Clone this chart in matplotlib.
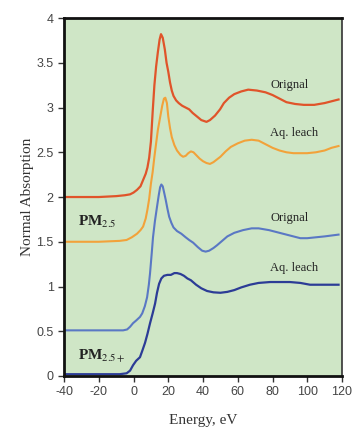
import numpy as np
import matplotlib.pyplot as plt

plt.rcParams['mathtext.fontset'] = 'stix'
plt.rcParams['axes.unicode_minus'] = False

# PM2.5 original (red)
x_red = [-40, -20, -10, -5, -2, 0, 2, 4, 5.5, 7, 8, 9, 10, 11, 12, 13, 14, 15, 15.8, 16.8, 18, 19, 20, 21, 22, 23,
         24.5, 26, 28, 30, 32, 34, 36.5, 39, 42, 44, 46.9, 49.8, 52, 55, 58, 62, 66, 71, 76, 80, 84, 88, 93, 98,
         104, 110, 114, 118]
y_red = [2.0, 2.0, 2.01, 2.02, 2.03, 2.05, 2.08, 2.12, 2.19, 2.26, 2.33, 2.44, 2.62, 2.95, 3.25, 3.46, 3.62, 3.76,
         3.82, 3.78, 3.65, 3.5, 3.4, 3.28, 3.19, 3.13, 3.08, 3.05, 3.02, 3.0, 2.98, 2.94, 2.9, 2.86, 2.84, 2.86,
         2.91, 2.98, 3.05, 3.11, 3.15, 3.18, 3.2, 3.19, 3.17, 3.14, 3.1, 3.06, 3.04, 3.03, 3.03, 3.05, 3.07, 3.09]

# PM2.5 aq. leach (orange)
x_org = [-40, -20, -8, -4, -1, 2, 4, 5.5, 7, 8, 9, 10, 11, 12, 13, 14, 15.2, 16.5, 17.5, 18.3, 19.2, 20, 21, 22,
         23.5, 25, 27, 28.5, 30, 31.5, 33, 34.5, 36, 38, 40, 42, 44, 46, 48, 50, 53, 56, 60, 64, 68, 72, 76, 80,
         84, 88, 92, 96, 100, 105, 110, 114, 118]
y_org = [1.5, 1.5, 1.51, 1.52, 1.55, 1.59, 1.63, 1.67, 1.76, 1.86, 1.98, 2.15, 2.28, 2.45, 2.6, 2.75, 2.88, 3.02,
         3.1, 3.11, 3.05, 2.9, 2.77, 2.67, 2.58, 2.52, 2.47, 2.45, 2.46, 2.49, 2.51, 2.5, 2.47, 2.43, 2.4, 2.38,
         2.37, 2.39, 2.42, 2.45, 2.51, 2.56, 2.6, 2.63, 2.64, 2.63, 2.59, 2.55, 2.52, 2.5, 2.49, 2.49, 2.49, 2.5,
         2.52, 2.55, 2.57]

# PM2.5+ original (light blue)
x_lb = [-40, -20, -6, -3.7, -2, -0.3, 1.5, 3.7, 5, 6.5, 7.8, 8.8, 9.5, 10.5, 11.2, 12.3, 13.5, 14.5, 15.3, 16,
        16.8, 17.5, 18.5, 19.5, 20.5, 21.8, 23, 25, 27.5, 30, 32, 34.3, 37, 39.5, 41.5, 43.5, 46, 48, 51, 54, 58,
        63, 68, 72, 78, 84, 90, 96, 100, 105, 110, 114, 118]
y_lb = [0.51, 0.51, 0.51, 0.52, 0.55, 0.59, 0.62, 0.66, 0.7, 0.78, 0.88, 1.02, 1.15, 1.38, 1.55, 1.73, 1.89, 2.02,
        2.11, 2.14, 2.12, 2.06, 1.97, 1.87, 1.78, 1.71, 1.66, 1.62, 1.59, 1.55, 1.52, 1.49, 1.44, 1.4, 1.39, 1.4,
        1.43, 1.46, 1.51, 1.56, 1.6, 1.63, 1.65, 1.65, 1.63, 1.6, 1.57, 1.54, 1.54, 1.55, 1.56, 1.57, 1.58]

# PM2.5+ aq. leach (dark blue)
x_db = [-40, -20, -8, -4, -2, -0.3, 1.5, 3.7, 5, 6.6, 8, 9.5, 11, 12.4, 13.5, 14.7, 16, 17.5, 19.5, 21.5, 23.5,
        25, 27, 29, 31, 33, 36, 39, 42.3, 46, 50, 54, 58, 62, 67, 72, 78.6, 85, 90, 96, 101.6, 108, 113, 118]
y_db = [0.02, 0.02, 0.02, 0.03, 0.06, 0.12, 0.17, 0.21, 0.28, 0.37, 0.47, 0.59, 0.7, 0.81, 0.93, 1.03, 1.09,
        1.12, 1.13, 1.13, 1.15, 1.15, 1.14, 1.12, 1.09, 1.07, 1.02, 0.98, 0.95, 0.935, 0.93, 0.94, 0.96, 0.99,
        1.02, 1.04, 1.05, 1.05, 1.05, 1.04, 1.02, 1.02, 1.02, 1.02]

labels = ['Orignal', 'Aq. leach', 'Orignal', 'Aq. leach']
label_y = [3.25, 2.72, 1.77, 1.21]

fig = plt.figure(figsize=(3.52, 4.30), dpi=100)
ax = fig.add_axes([0.182, 0.1256, 0.7896, 0.8324])
ax.set_facecolor('#cfe6c6')

ax.plot(x_red, y_red, color='#e0542a', lw=1.6)
ax.plot(x_org, y_org, color='#f2a23a', lw=1.5)
ax.plot(x_lb, y_lb, color='#5a78c4', lw=1.5)
ax.plot(x_db, y_db, color='#2c3c96', lw=1.6)

for t, yy in zip(labels, label_y):
    ax.text(78.6, yy, t, family='Liberation Serif', fontsize=9, va='center', ha='left', color='#222222')

ax.text(-32, 1.72, r'PM$_{\mathrm{2.5}}$', family='Liberation Serif', fontsize=11, fontweight='bold',
        va='center', color='#222222')
ax.text(-32, 0.22, r'PM$_{\mathrm{2.5+}}$', family='Liberation Serif', fontsize=11, fontweight='bold',
        va='center', color='#222222')

ax.set_xlim(-40, 120)
ax.set_ylim(0, 4)
ax.set_xticks(np.arange(-40, 121, 20))
ax.set_yticks([0, 0.5, 1, 1.5, 2, 2.5, 3, 3.5, 4])
ax.set_yticklabels(['0', '0.5', '1', '1.5', '2', '2.5', '3', '3.5', '4'])
ax.tick_params(direction='out', length=4, width=1, color='#333333', labelsize=9, labelcolor='#444444')
for lab in ax.get_xticklabels() + ax.get_yticklabels():
    lab.set_family('Liberation Sans')

for s in ['left', 'bottom', 'top']:
    ax.spines[s].set_linewidth(2)
    ax.spines[s].set_color('#111111')
ax.spines['right'].set_linewidth(1.2)
ax.spines['right'].set_color('#333333')

ax.set_xlabel('Energy, eV', family='Liberation Serif', fontsize=11, color='#333333', labelpad=11)
ax.set_ylabel('Normal Absorption', family='Liberation Serif', fontsize=11, color='#333333', labelpad=2)

fig.savefig('out.png', dpi=100)
